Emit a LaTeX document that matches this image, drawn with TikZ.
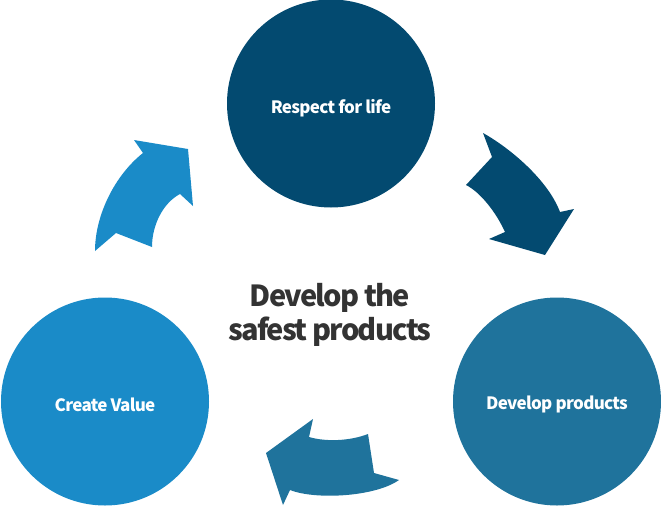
\documentclass[tikz,border=0pt]{standalone}
\usepackage{fontspec}
\setmainfont{Noto Sans CJK KR}
\usepackage{tikz}
\usetikzlibrary{positioning}
\definecolor{lifeblue}{RGB}{3,74,112}
\definecolor{prodblue}{RGB}{31,115,156}
\definecolor{valueblue}{RGB}{26,139,200}
\definecolor{goalgray}{RGB}{51,51,51}
\newfontfamily\stagefont[LetterSpace=-4.0]{Noto Sans CJK KR}
\newfontfamily\goalfont[LetterSpace=-6.0]{Noto Sans CJK KR}
\tikzset{
    stage/.style={circle, minimum size=208pt, inner sep=0pt},
    stagetext/.style={text=white, yshift=-3pt, font=\stagefont\fontsize{17}{20}\selectfont\bfseries},
    goal/.style={align=center, text=goalgray, font=\goalfont\fontsize{29}{34}\selectfont\bfseries},
    flow/.style={draw=none}
}

\begin{document}
\begin{tikzpicture}[x=1pt, y=-1pt]
    \useasboundingbox (0,0) rectangle (661,506);

    % stages
    \node[stage, fill=lifeblue, label={[stagetext, yshift=-2pt]center:Respect for life}] (life) at (331,103.5) {};
    \node[stage, fill=prodblue, label={[stagetext]center:Develop products}] (products) at (557,401.5) {};
    \node[stage, fill=valueblue, label={[stagetext]center:Create Value}] (value) at (105,401.5) {};
    \node[goal] (aim) at (330,315) {Develop the\\safest products};

    % arrows between stages
    \fill[flow, lifeblue] (483,133) .. controls (510,148) and (548,180) .. (560,212) -- (574,209) -- (545,255) -- (489,239) -- (505,232) .. controls (496,212) and (480,192) .. (466,185) -- (492,157) -- cycle;
    \fill[flow, prodblue] (368,434) .. controls (350,441) and (326,442) .. (309,437) -- (313,419) -- (266,453) -- (283,505) -- (290,490) .. controls (315,500) and (375,497) .. (399,480) -- (374,473) -- cycle;
    \fill[flow, valueblue] (95,251) .. controls (95,215) and (115,175) .. (143,153) -- (134,140) -- (188,149) -- (193,206) -- (180,194) .. controls (163,203) and (152,225) .. (152,247) -- (116,233) -- cycle;
\end{tikzpicture}
\end{document}
